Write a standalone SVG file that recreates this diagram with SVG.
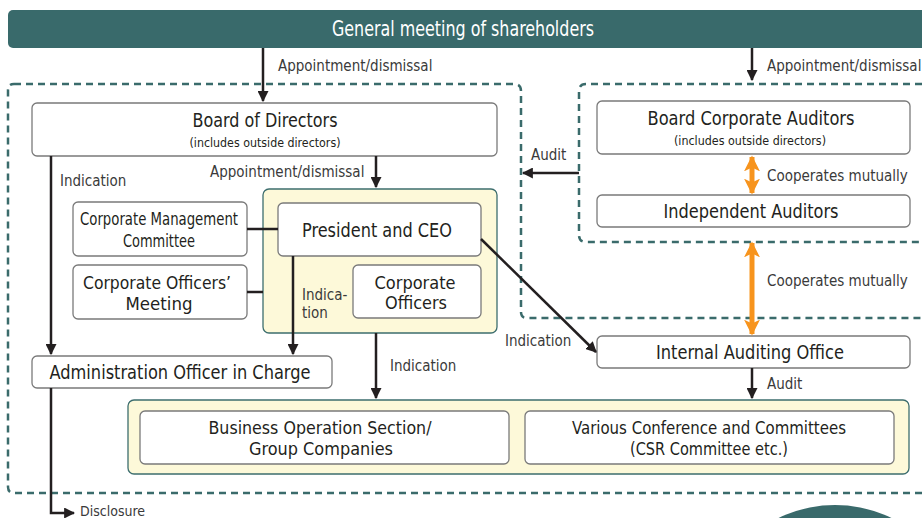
<svg xmlns="http://www.w3.org/2000/svg" width="922" height="518" viewBox="0 0 922 518">
<defs>
<style>
text{font-family:"Liberation Sans Narrow","DejaVu Sans Condensed","Liberation Sans",sans-serif;fill:#231f20}
.box{fill:#fff;stroke:#7a7a7a;stroke-width:1.3}
.ybox{fill:#fdf9d9;stroke:#3d6e6e;stroke-width:1.3}
.dash{fill:none;stroke:#3a6b6b;stroke-width:2.5;stroke-dasharray:7,5}
.ln{fill:none;stroke:#231f20;stroke-width:2.5}
.ar{fill:none;stroke:#231f20;stroke-width:2.5;marker-end:url(#ah)}
.or{fill:none;stroke:#f7941d;stroke-width:5;marker-start:url(#oh);marker-end:url(#oh)}
.t18{font-size:20px;text-anchor:middle}
.t16{font-size:18.5px;text-anchor:middle}
.t12{font-size:13px;text-anchor:middle}
.lb{font-size:15px;fill:#3a3a3a}
</style>
<marker id="ah" markerUnits="userSpaceOnUse" viewBox="0 0 10 10" refX="9" refY="5" markerWidth="11" markerHeight="11" orient="auto">
<path d="M0,0 L10,5 L0,10 Z" fill="#231f20"/>
</marker>
<marker id="oh" markerUnits="userSpaceOnUse" viewBox="0 0 10 10" refX="9" refY="5" markerWidth="16" markerHeight="16" orient="auto-start-reverse">
<path d="M0,0 L10,5 L0,10 L2.5,5 Z" fill="#f7941d"/>
</marker>
</defs>

<g id="regions">
<path class="dash" d="M14,84 H514 Q521,84 521,91 V312 Q521,318 527,318 H922"/>
<path class="dash" d="M922,493 H14 Q8,493 8,487 V90 Q8,84 14,84"/>
<path class="dash" d="M922,84 H586 Q579,84 579,91 V235 Q579,242 586,242 H922"/>
<rect class="ybox" x="263" y="189" width="234" height="144" rx="6"/>
<rect class="ybox" x="128" y="400" width="781" height="74" rx="6"/>
</g>

<g id="gms">
<rect x="8" y="10" width="930" height="38" rx="5" fill="#396a6b"/>
<text x="463" y="36" font-size="21" text-anchor="middle" textLength="262" lengthAdjust="spacingAndGlyphs" style="fill:#fff">General meeting of shareholders</text>
</g>

<g id="board">
<rect class="box" x="32" y="103" width="465" height="53" rx="5"/>
<text class="t18" x="265" y="127" textLength="145" lengthAdjust="spacingAndGlyphs">Board of Directors</text>
<text class="t12" x="265" y="147" textLength="151" lengthAdjust="spacingAndGlyphs">(includes outside directors)</text>
</g>

<g id="bca">
<rect class="box" x="597" y="101" width="313" height="53" rx="5"/>
<text class="t18" x="751" y="125" textLength="207" lengthAdjust="spacingAndGlyphs">Board Corporate Auditors</text>
<text class="t12" x="750" y="145" textLength="152" lengthAdjust="spacingAndGlyphs">(includes outside directors)</text>
</g>

<g id="indep">
<rect class="box" x="597" y="195" width="313" height="32" rx="5"/>
<text class="t18" x="751" y="218" textLength="175" lengthAdjust="spacingAndGlyphs">Independent Auditors</text>
</g>

<g id="cmc">
<rect class="box" x="73" y="202" width="174" height="54" rx="5"/>
<text class="t16" x="159" y="225" textLength="158" lengthAdjust="spacingAndGlyphs">Corporate Management</text>
<text class="t16" x="159" y="247" textLength="72" lengthAdjust="spacingAndGlyphs">Committee</text>
</g>

<g id="com">
<rect class="box" x="73" y="265" width="174" height="54" rx="5"/>
<text class="t16" x="157" y="289" textLength="148" lengthAdjust="spacingAndGlyphs">Corporate Officers’</text>
<text class="t16" x="159" y="310" textLength="67" lengthAdjust="spacingAndGlyphs">Meeting</text>
</g>

<g id="ceo">
<rect class="box" x="278" y="203" width="203" height="53" rx="5"/>
<text class="t18" x="377" y="237" textLength="150" lengthAdjust="spacingAndGlyphs">President and CEO</text>
</g>

<g id="co">
<rect class="box" x="353" y="265" width="128" height="53" rx="5"/>
<text class="t16" x="415" y="289" textLength="81" lengthAdjust="spacingAndGlyphs">Corporate</text>
<text class="t16" x="416" y="309" textLength="62" lengthAdjust="spacingAndGlyphs">Officers</text>
</g>

<g id="admin">
<rect class="box" x="32" y="356" width="300" height="32" rx="5"/>
<text class="t18" x="180" y="379" textLength="261" lengthAdjust="spacingAndGlyphs">Administration Officer in Charge</text>
</g>

<g id="iao">
<rect class="box" x="597" y="336" width="313" height="32" rx="5"/>
<text class="t18" x="750" y="359" textLength="188" lengthAdjust="spacingAndGlyphs">Internal Auditing Office</text>
</g>

<g id="bos">
<rect class="box" x="140" y="411" width="369" height="53" rx="5"/>
<text class="t16" x="320" y="434" textLength="223" lengthAdjust="spacingAndGlyphs">Business Operation Section/</text>
<text class="t16" x="321" y="455" textLength="144" lengthAdjust="spacingAndGlyphs">Group Companies</text>
</g>

<g id="vcc">
<rect class="box" x="525" y="411" width="369" height="53" rx="5"/>
<text class="t16" x="709" y="434" textLength="274" lengthAdjust="spacingAndGlyphs">Various Conference and Committees</text>
<text class="t16" x="709" y="455" textLength="158" lengthAdjust="spacingAndGlyphs">(CSR Committee etc.)</text>
</g>

<g id="connectors">
<line class="ar" x1="263" y1="48" x2="263" y2="101"/>
<line class="ar" x1="752" y1="48" x2="752" y2="80"/>
<line class="ar" x1="376" y1="156" x2="376" y2="187"/>
<line class="ar" x1="579" y1="173" x2="523" y2="173"/>
<line class="ar" x1="51" y1="156" x2="51" y2="354"/>
<line class="ln" x1="247" y1="229" x2="278" y2="229"/>
<line class="ln" x1="247" y1="292" x2="263" y2="292"/>
<line class="ar" x1="293" y1="256" x2="293" y2="354"/>
<line class="ar" x1="376" y1="333" x2="376" y2="398"/>
<line class="ar" x1="481" y1="239" x2="596" y2="352"/>
<line class="ar" x1="752" y1="368" x2="752" y2="398"/>
<path class="ar" d="M51,388 V513 H74"/>
<line class="or" x1="752" y1="157" x2="752" y2="193"/>
<line class="or" x1="752" y1="243" x2="752" y2="334"/>
</g>

<g id="labels">
<text class="lb" x="278" y="71">Appointment/dismissal</text>
<text class="lb" x="767" y="71">Appointment/dismissal</text>
<text class="lb" x="210" y="177">Appointment/dismissal</text>
<text class="lb" x="60" y="186">Indication</text>
<text class="lb" x="531" y="160">Audit</text>
<text class="lb" x="767" y="181">Cooperates mutually</text>
<text class="lb" x="767" y="286">Cooperates mutually</text>
<text class="lb" x="302" y="300">Indica-</text>
<text class="lb" x="302" y="318">tion</text>
<text class="lb" x="390" y="371">Indication</text>
<text class="lb" x="505" y="346">Indication</text>
<text class="lb" x="767" y="389">Audit</text>
<text class="lb" x="80" y="516" style="font-size:14px">Disclosure</text>
</g>

<circle cx="835" cy="634" r="129" fill="#396a6b"/>
</svg>
